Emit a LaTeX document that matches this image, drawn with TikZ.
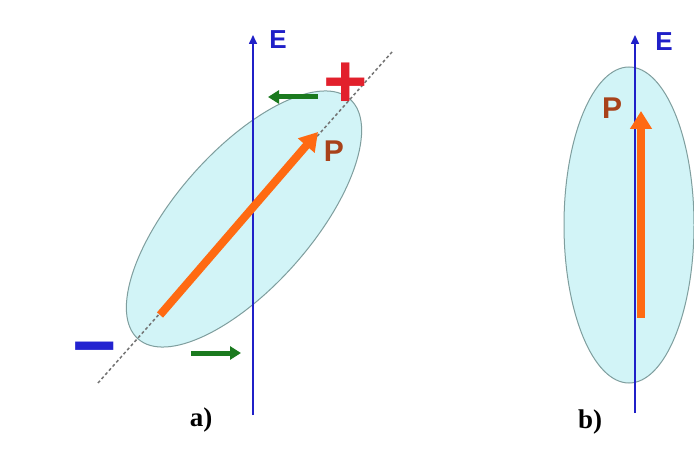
\documentclass[tikz,border=0pt]{standalone}
\usepackage{fontspec}
\setmainfont{Liberation Serif}
\setsansfont{Liberation Sans}
\usetikzlibrary{arrows.meta}
\definecolor{ellfill}{HTML}{D2F4F7}
\definecolor{ellline}{HTML}{7F9E9E}
\definecolor{axisblue}{HTML}{2020C8}
\definecolor{pgreen}{HTML}{1B7A1F}
\definecolor{porange}{HTML}{FF6A12}
\definecolor{pbrown}{HTML}{A8421A}
\definecolor{pred}{HTML}{E2202C}
\definecolor{mblue}{HTML}{2323D0}
\begin{document}
\begin{tikzpicture}[x=1pt,y=-1pt,
  ellstyle/.style={fill=ellfill,draw=ellline,line width=1pt},
  axisline/.style={draw=axisblue,line width=1.6pt,-{Triangle[width=8pt,length=9pt]}},
  elabel/.style={text=axisblue,font=\sffamily\bfseries\fontsize{26}{26}\selectfont,inner sep=0pt},
  plabel/.style={text=pbrown,font=\sffamily\bfseries\fontsize{30}{30}\selectfont,inner sep=0pt},
  parrow/.style={draw=porange,line width=8pt,-{Triangle[width=21pt,length=18pt]}},
  garrow/.style={draw=pgreen,line width=5pt,-{Triangle[width=13pt,length=11pt]}},
  dashaxis/.style={draw=black!55,line width=1.5pt,dash pattern=on 3pt off 2.5pt},
  sign/.style={font=\sffamily\bfseries\fontsize{76}{76}\selectfont,inner sep=0pt},
  caplabel/.style={font=\bfseries\fontsize{27}{27}\selectfont,inner sep=0pt}]
\useasboundingbox (0,0) rectangle (694,449);
\fill[white] (0,0) rectangle (694,449);
% ---------- panel a ----------
\draw[ellstyle, rotate around={48.5:(244,219)}] (244,219) ellipse [x radius=160, y radius=68];
\coordinate (Da) at (98,383);
\coordinate (Db) at (392,52);
\draw[dashaxis] (Da) -- (Db);
\coordinate (Ea0) at (253,415);
\coordinate (Ea1) at (253,35);
\draw[axisline] (Ea0) -- (Ea1);
\node[elabel] (Ealab) at (278,40) {E};
\coordinate (Pa0) at (160,315);
\coordinate (Pa1) at (318,132);
\draw[parrow] (Pa0) -- (Pa1);
\node[plabel] (Palab) at (334,151) {P};
\coordinate (Ga0) at (318,97);
\coordinate (Ga1) at (268,97);
\draw[garrow] (Ga0) -- (Ga1);
\coordinate (Gb0) at (191,353);
\coordinate (Gb1) at (241,353);
\draw[garrow] (Gb0) -- (Gb1);
\node[sign,text=pred] (plus) at (346,85) {+};
\node[sign,text=mblue] (minus) at (95,357) {−};
\node[caplabel] (alab) at (201,420) {a)};
% ---------- panel b ----------
\draw[ellstyle] (629,225) ellipse [x radius=65, y radius=158];
\coordinate (Eb0) at (635,413);
\coordinate (Eb1) at (635,35);
\draw[axisline] (Eb0) -- (Eb1);
\node[elabel] (Eblab) at (664,42) {E};
\coordinate (Pb0) at (641,318);
\coordinate (Pb1) at (641,111);
\draw[parrow] (Pb0) -- (Pb1);
\node[plabel] (Pblab) at (612,108) {P};
\node[caplabel] (blab) at (590,422) {b)};
\end{tikzpicture}
\end{document}
